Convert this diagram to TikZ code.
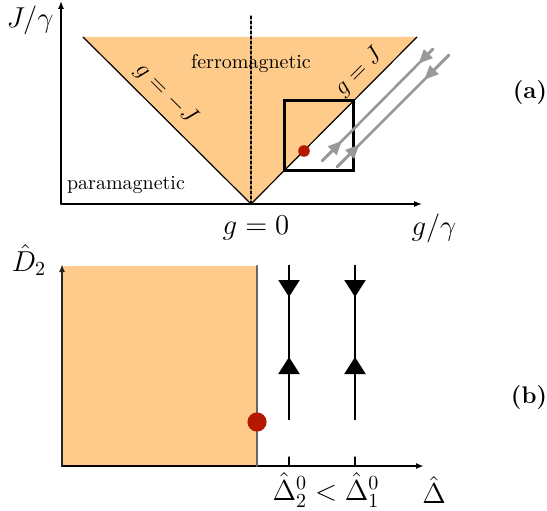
\documentclass[tikz,border=0pt]{standalone}
\usepackage{amsmath,amssymb}
\usepackage{tikz}
\usetikzlibrary{arrows.meta,calc}
\usepackage{xcolor}
\definecolor{ferro}{RGB}{254,203,138}
\definecolor{dotred}{RGB}{180,24,0}

\begin{document}
\begin{tikzpicture}[x=0.5pt,y=0.5pt,>={Latex[length=4pt,width=3pt]},line cap=round,
  flow/.style={gray!80,line width=1.3pt},
  flowtip/.style={flow,-{Triangle[length=7pt,width=6pt]}},
  orbit/.style={line width=1.1pt},
  orbittip/.style={orbit,-{Triangle[length=8.5pt,width=10.5pt]}},
  lbl/.style={font=\Large}]
\useasboundingbox (0,0) rectangle (547,510);
% panel (a)
\coordinate (O1) at (61,306);
\coordinate (apex) at (251,306);
\coordinate (tl) at (83,473);
\coordinate (tr) at (417,473);
\fill[ferro] (tl) -- (tr) -- (apex) -- cycle;
\draw[line width=0.6pt] (tl) -- (apex) -- (tr);
\draw[dash pattern=on 1.5pt off 1pt,line width=0.6pt] (251,494) -- (apex);
\draw[->,line width=0.6pt] (O1) -- (422,306);
\draw[->,line width=0.6pt] (O1) -- (61,509);
\draw[line width=1.5pt] (284,339) rectangle (353,409);
\fill[dotred] (304,359) circle (2.9pt);
\coordinate (s1) at (322,349); \coordinate (e1) at (433,461);
\coordinate (s2) at (337,343); \coordinate (e2) at (449,455);
\draw[flow] (s1) -- (e1);
\draw[flow] (s2) -- (e2);
\draw[flowtip] (s1) -- ($(s1)!0.18!(e1)$);
\draw[flowtip] (e1) -- ($(s1)!0.87!(e1)$);
\draw[flowtip] (s2) -- ($(s2)!0.2!(e2)$);
\draw[flowtip] (e2) -- ($(s2)!0.78!(e2)$);
\node[lbl] (Jg) at (30,490) {$J/\gamma$};
\node[lbl] (gg) at (434,282) {$g/\gamma$};
\node[lbl] (g0) at (256,282) {$g=0$};
\node (ferrolbl) at (251,446) {ferromagnetic};
\node (paralbl) at (126,325) {paramagnetic};
\node[font=\large,rotate=-45] (gmJ) at (166,416) {$g=-J$};
\node[font=\large,rotate=45] (gJ) at (359,438) {$g=J$};
\node[font=\large] (pa) at (530,417) {\textbf{(a)}};
% panel (b)
\coordinate (O2) at (62,44);
\fill[ferro] (O2) rectangle (257,244);
\draw[->,line width=0.8pt] (O2) -- (424,44);
\draw[->,black!85,line width=1pt] (O2) -- (62,246);
\draw[black!60,line width=1.2pt] (257,44) -- (257,244);
\fill[dotred] (257,88) circle (4.8pt);
\foreach \x in {289,355} {
  \draw[orbit] (\x,91) -- (\x,244);
  \draw[orbittip] (\x,244) -- (\x,213);
  \draw[orbittip] (\x,91) -- (\x,153);
  \draw[line width=0.6pt] (\x,44) -- (\x,53);
}
\node[lbl] (D2) at (29,250) {$\hat{D}_2$};
\node[lbl] (gaps) at (326,20) {$\hat{\Delta}_2^0 < \hat{\Delta}_1^0$};
\node[lbl] (Dl) at (434,20) {$\hat{\Delta}$};
\node[font=\large] (pb) at (529,112) {\textbf{(b)}};
\end{tikzpicture}
\end{document}
